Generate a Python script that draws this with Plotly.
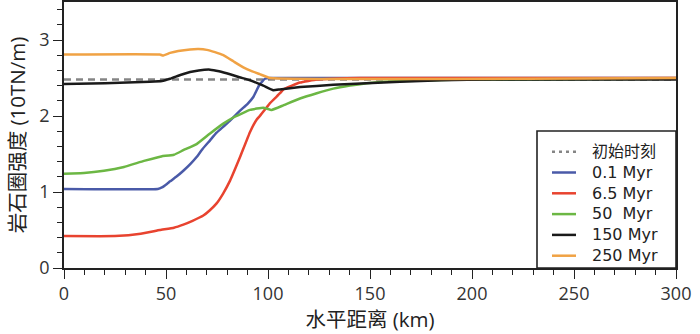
import plotly.graph_objects as go

# ---- data ----
x_init = [0, 300]
y_init = [2.48, 2.48]

x_01 = [0, 46, 48, 50.6, 52, 55, 58.5, 62, 65, 68, 71.6, 74.8, 78.1, 81.4, 86.3, 90, 92.8, 96, 98.5, 101, 300]
y_01 = [1.04, 1.04, 1.06, 1.11, 1.14, 1.20, 1.28, 1.37, 1.46, 1.57, 1.68, 1.78, 1.86, 1.94, 2.07, 2.16, 2.25, 2.42, 2.49, 2.50, 2.50]

x_65 = [0, 25, 37.6, 47, 53.9, 58.5, 63, 68.3, 71.5, 74.8, 78, 81.4, 86.3, 91.2, 94.4, 96, 101, 105.9, 107.5, 115.7, 123.9, 132, 145, 300]
y_65 = [0.42, 0.42, 0.45, 0.50, 0.53, 0.57, 0.62, 0.69, 0.76, 0.85, 0.98, 1.15, 1.46, 1.79, 1.95, 2.00, 2.17, 2.30, 2.35, 2.44, 2.48, 2.49, 2.50, 2.50]

x_50 = [0, 9.8, 19.6, 29.4, 39.2, 46.6, 48, 53.9, 58.5, 65, 71.6, 78.1, 83, 91.2, 97.7, 101.8, 107.5, 115.7, 123.9, 132, 140.2, 148.4, 156.5, 164.7, 180, 200, 300]
y_50 = [1.24, 1.25, 1.28, 1.33, 1.41, 1.46, 1.47, 1.49, 1.55, 1.63, 1.77, 1.90, 1.98, 2.08, 2.11, 2.08, 2.14, 2.23, 2.30, 2.36, 2.40, 2.43, 2.45, 2.46, 2.47, 2.48, 2.49]

x_150 = [0, 20, 42, 48, 52, 57, 61.8, 66, 71.6, 76, 81.4, 86, 91.2, 97.7, 102.6, 105.8, 115.7, 132, 148.4, 164.7, 185, 210, 300]
y_150 = [2.42, 2.43, 2.45, 2.46, 2.49, 2.54, 2.58, 2.60, 2.61, 2.59, 2.55, 2.51, 2.47, 2.40, 2.34, 2.35, 2.38, 2.41, 2.43, 2.45, 2.47, 2.48, 2.48]

x_250 = [0, 47, 48.5, 52, 56, 61.8, 66, 70, 74, 78.1, 83, 87.9, 92, 96, 101, 300]
y_250 = [2.81, 2.81, 2.795, 2.83, 2.855, 2.875, 2.88, 2.87, 2.84, 2.80, 2.72, 2.64, 2.59, 2.55, 2.50, 2.50]

init_name = "初始时刻"
names = ["0.1 Myr", "6.5 Myr", "50\u00a0\u00a0Myr", "150 Myr", "250 Myr"]
colors = ["#4a5aa8", "#e8432f", "#6cb744", "#1a1a1a", "#f0a244"]
init_color = "#858585"
series = [(x_01, y_01), (x_65, y_65), (x_50, y_50), (x_150, y_150), (x_250, y_250)]

x_ticks = [0, 50, 100, 150, 200, 250, 300]
y_ticks = [0, 1, 2, 3]

FONT = "Open Sans, Noto Sans CJK SC, sans-serif"
LEG_FONT = "DejaVu Sans, Noto Sans CJK SC, sans-serif"
W, H = 700, 334
ML, MR, MT, MB = 64, 24, 2, 66
PW, PH = W - ML - MR, H - MT - MB


def px2paper_x(px):
    return (px - ML) / PW


def py2paper_y(py):
    return (H - MB - py) / PH


fig = go.Figure()
fig.add_trace(go.Scatter(x=x_init, y=y_init, mode="lines", name=init_name, showlegend=False,
                         line=dict(color=init_color, width=2.5, dash="7px,5px")))
for (xs, ys), n, c in zip(series, names, colors):
    fig.add_trace(go.Scatter(x=xs, y=ys, mode="lines", name=n, showlegend=False,
                             line=dict(color=c, width=2.5, shape="spline", smoothing=0.3)))

# ---- legend drawn as a framed box in the lower right ----
shapes = [dict(type="rect", xref="paper", yref="paper",
               x0=px2paper_x(537), x1=1, y0=0, y1=py2paper_y(131),
               line=dict(color="#222", width=1.6), fillcolor="white", layer="above")]
leg_names = [init_name] + names
leg_colors = [init_color] + colors
leg_dash = ["3px,4px"] + ["solid"] * len(names)
ROW0, ROWGAP = 151.7, 20.8
for i, (c, d) in enumerate(zip(leg_colors, leg_dash)):
    py = ROW0 + i * ROWGAP
    shapes.append(dict(type="line", xref="paper", yref="paper",
                       x0=px2paper_x(552), x1=px2paper_x(576),
                       y0=py2paper_y(py), y1=py2paper_y(py),
                       line=dict(color=c, width=2.5, dash=d), layer="above"))
mid_py = ROW0 + (len(leg_names) - 1) * ROWGAP / 2
annotations = [dict(xref="paper", yref="paper", x=px2paper_x(591), y=py2paper_y(mid_py),
                    text="<br>".join(leg_names), showarrow=False,
                    xanchor="left", yanchor="middle", align="left", borderpad=0,
                    font=dict(family=LEG_FONT, size=16, color="#222"))]

axis_common = dict(showline=True, mirror=True, linecolor="#222", linewidth=1.6,
                   ticks="outside", ticklen=9, tickwidth=1.3, tickcolor="#222",
                   showgrid=False, zeroline=False, automargin=False,
                   tickfont=dict(family=FONT, size=18, color="#333"))

fig.update_xaxes(range=[0, 300], tickvals=x_ticks,
                 minor=dict(dtick=10, ticks="outside", ticklen=5, tickcolor="#222", tickwidth=1.3),
                 title=dict(text="水平距离 (km)", font=dict(family=FONT, size=20.5, color="#222"), standoff=2),
                 **axis_common)
fig.update_yaxes(range=[0, 3.5], tickvals=y_ticks,
                 minor=dict(dtick=0.2, ticks="outside", ticklen=5, tickcolor="#222", tickwidth=1.3),
                 title=dict(text="岩石圈强度 (10TN/m)", font=dict(family=FONT, size=20.5, color="#222"), standoff=8),
                 **axis_common)

fig.update_layout(
    width=W, height=H,
    margin=dict(l=ML, r=MR, t=MT, b=MB),
    paper_bgcolor="white", plot_bgcolor="white",
    font=dict(family=FONT, color="#222"),
    showlegend=False,
    shapes=shapes, annotations=annotations,
)

fig.write_html("out.html", config={"displayModeBar": False},
               post_script="document.body.style.margin='0';")
